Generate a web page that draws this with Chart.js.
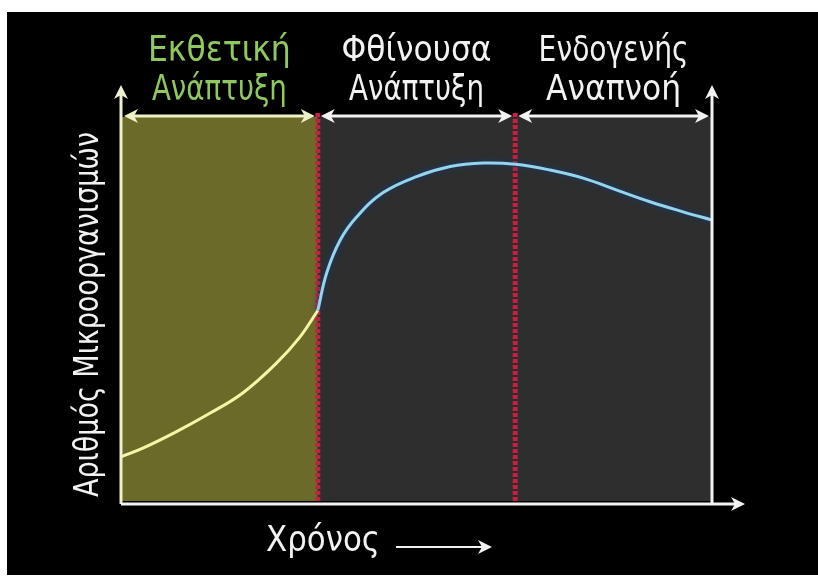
<!DOCTYPE html>
<html>
<head>
<meta charset="utf-8">
<script src="https://cdn.jsdelivr.net/npm/chart.js@4"></script>
<style>
  html, body { margin: 0; padding: 0; background: #ffffff; }
  canvas { display: block; }
</style>
</head>
<body>
<canvas id="chart" width="818" height="581"></canvas>
<script>
// Growth curve (time 0-100, count 0-100)
const timeExp = [0, 3.8, 9.4, 15.1, 20.6, 26.3, 30.3, 33.3];
const countExp = [12.2, 14.5, 18.7, 23.5, 28.7, 36.4, 43.2, 50.0];
const timeDecl = [33.3, 34.8, 37.1, 39.9, 44.3, 50.0, 55.7, 61.3, 66.7, 72.6, 78.2, 83.9, 89.5, 95.1, 100];
const countDecl = [50.0, 59.7, 68.2, 74.2, 80.4, 84.6, 87.2, 88.1, 87.8, 86.3, 84.2, 81.1, 78.1, 75.5, 73.4];

// Phases
const phaseEdges = [0, 33.3, 66.7, 100];
const phaseLabels = [
  ["Εκθετική", "Ανάπτυξη"],
  ["Φθίνουσα", "Ανάπτυξη"],
  ["Ενδογενής", "Αναπνοή"]
];
const phaseFill = ["#6b6a28", "#2e2e2e", "#2e2e2e"];
const phaseTextColor = ["#8fc85e", "#f2f2f2", "#f2f2f2"];

const yTitle = "Αριθμός Μικροοργανισμών";
const xTitle = "Χρόνος";

const FONT = '"Liberation Sans Narrow", "DejaVu Sans Condensed", "Liberation Sans", sans-serif';

function toPoints(xs, ys) {
  return xs.map((x, i) => ({ x: x, y: ys[i] }));
}

// centered text squeezed horizontally to a given width
function fitText(ctx, text, x, y, maxW) {
  const w = ctx.measureText(text).width;
  const k = Math.min(1, maxW / w);
  ctx.save();
  ctx.translate(x, y);
  ctx.scale(k, 1);
  ctx.fillText(text, 0, 0);
  ctx.restore();
}

// draw an arrowhead with its tip at (x, y) pointing along angle a
function head(ctx, x, y, a, color) {
  const len = 14, w = 7;
  ctx.save();
  ctx.translate(x, y);
  ctx.rotate(a);
  ctx.fillStyle = color;
  ctx.beginPath();
  ctx.moveTo(0, 0);
  ctx.lineTo(-len, -w);
  ctx.lineTo(-len + 4, 0);
  ctx.lineTo(-len, w);
  ctx.closePath();
  ctx.fill();
  ctx.restore();
}

function line(ctx, x1, y1, x2, y2, color, width) {
  ctx.save();
  ctx.strokeStyle = color;
  ctx.lineWidth = width;
  ctx.beginPath();
  ctx.moveTo(x1, y1);
  ctx.lineTo(x2, y2);
  ctx.stroke();
  ctx.restore();
}

const decorPlugin = {
  id: "decor",
  beforeDraw(chart) {
    const ctx = chart.ctx;
    ctx.save();
    ctx.fillStyle = "#ffffff";
    ctx.fillRect(0, 0, chart.width, chart.height);
    ctx.fillStyle = "#000000";
    ctx.fillRect(7, 12, chart.width - 7, 563);
    ctx.restore();
  },
  beforeDatasetsDraw(chart) {
    const ctx = chart.ctx;
    const xs = chart.scales.x;
    const area = chart.chartArea;
    // phase shading
    for (let i = 0; i < phaseLabels.length; i++) {
      const x1 = xs.getPixelForValue(phaseEdges[i]);
      const x2 = xs.getPixelForValue(phaseEdges[i + 1]);
      ctx.fillStyle = phaseFill[i];
      ctx.fillRect(x1, area.top, x2 - x1, area.bottom - area.top - 3);
    }
    // red dashed phase borders
    ctx.save();
    ctx.strokeStyle = "#c81e40";
    ctx.lineWidth = 5;
    ctx.setLineDash([4, 2]);
    for (let i = 1; i < phaseEdges.length - 1; i++) {
      const x = xs.getPixelForValue(phaseEdges[i]);
      ctx.beginPath();
      ctx.moveTo(x, area.top - 4);
      ctx.lineTo(x, area.bottom - 3);
      ctx.stroke();
    }
    ctx.restore();
  },
  beforeDatasetDraw(chart, args) {
    if (args.index === 1) {
      chart.ctx.save();
      chart.ctx.shadowColor = "#103e78";
      chart.ctx.shadowBlur = 6;
    }
  },
  afterDatasetDraw(chart, args) {
    if (args.index === 1) chart.ctx.restore();
  },
  afterDatasetsDraw(chart) {
    const ctx = chart.ctx;
    const xs = chart.scales.x;
    const area = chart.chartArea;
    const left = xs.getPixelForValue(0);
    const right = xs.getPixelForValue(100);
    const base = area.bottom;
    const axisTop = area.top - 32;

    // y axis
    line(ctx, left, base, left, axisTop + 6, "#eef0cf", 3);
    head(ctx, left, axisTop, -Math.PI / 2, "#eef0cf");
    // right border
    line(ctx, right, base, right, axisTop + 6, "#f2f2f2", 3);
    head(ctx, right, axisTop, -Math.PI / 2, "#f2f2f2");
    // x axis
    line(ctx, left, base, right + 33 - 6, base, "#f2f2f2", 3);
    head(ctx, right + 33, base, 0, "#f2f2f2");

    // phase double arrows + labels
    const ay = area.top - 1;
    for (let i = 0; i < phaseLabels.length; i++) {
      const x1 = xs.getPixelForValue(phaseEdges[i]) + 3;
      const x2 = xs.getPixelForValue(phaseEdges[i + 1]) - 3;
      const c = i === 0 ? "#eef2c8" : "#f2f2f2";
      line(ctx, x1 + 6, ay, x2 - 6, ay, c, 3);
      head(ctx, x1, ay, Math.PI, c);
      head(ctx, x2, ay, 0, c);

      const cx = (x1 + x2) / 2;
      ctx.save();
      ctx.fillStyle = phaseTextColor[i];
      ctx.font = "35px " + FONT;
      ctx.textAlign = "center";
      ctx.textBaseline = "alphabetic";
      fitText(ctx, phaseLabels[i][0], cx, 61, 150);
      fitText(ctx, phaseLabels[i][1], cx, 100, 135);
      ctx.restore();
    }

    // y title
    ctx.save();
    ctx.fillStyle = "#f2f2f2";
    ctx.font = "34px " + FONT;
    ctx.textAlign = "center";
    ctx.textBaseline = "alphabetic";
    ctx.translate(98, (area.top + area.bottom) / 2 + 4);
    ctx.rotate(-Math.PI / 2);
    fitText(ctx, yTitle, 0, 0, 365);
    ctx.restore();

    // x title with arrow
    ctx.save();
    ctx.fillStyle = "#f2f2f2";
    ctx.font = "35px " + FONT;
    ctx.textAlign = "center";
    ctx.textBaseline = "alphabetic";
    fitText(ctx, xTitle, 323, 551, 114);
    ctx.restore();
    line(ctx, 396, 547, 482, 547, "#f2f2f2", 2);
    head(ctx, 492, 547, 0, "#f2f2f2");
  }
};

new Chart(document.getElementById("chart"), {
  type: "line",
  data: {
    datasets: [
      {
        data: toPoints(timeExp, countExp),
        borderColor: "#f3f7a6",
        borderWidth: 3,
        pointRadius: 0,
        tension: 0.4,
        fill: false
      },
      {
        data: toPoints(timeDecl, countDecl),
        borderColor: "#94d4ee",
        borderWidth: 3,
        pointRadius: 0,
        tension: 0.4,
        fill: false
      }
    ]
  },
  options: {
    responsive: false,
    devicePixelRatio: 1,
    animation: false,
    events: [],
    layout: { padding: { left: 121, right: 106, top: 117, bottom: 77 } },
    scales: {
      x: { type: "linear", min: 0, max: 100, display: false },
      y: { min: 0, max: 100, display: false }
    },
    plugins: {
      legend: { display: false },
      tooltip: { enabled: false }
    }
  },
  plugins: [decorPlugin]
});
</script>
</body>
</html>
